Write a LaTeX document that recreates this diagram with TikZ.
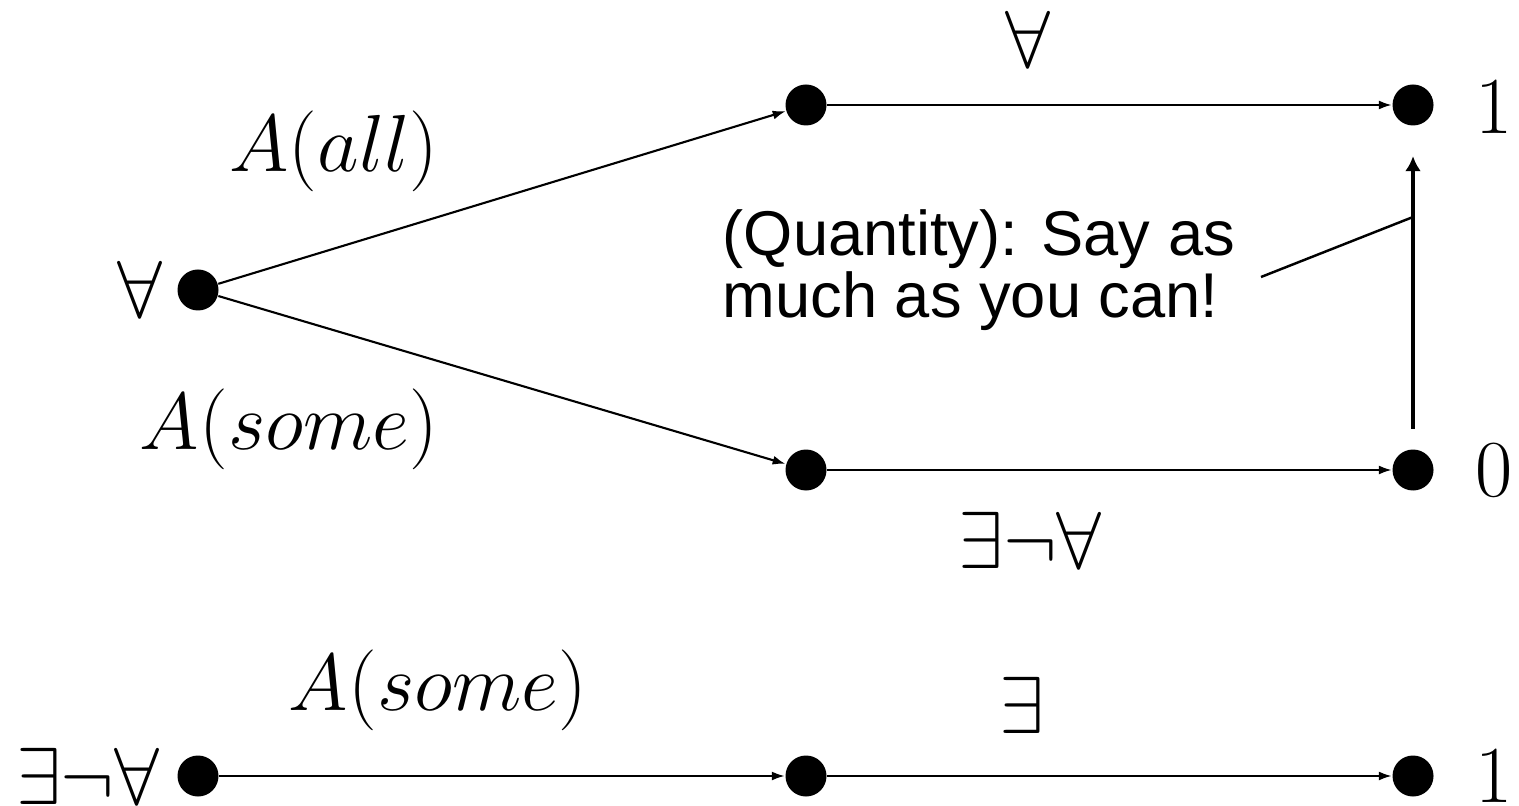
\documentclass[tikz,border=0pt]{standalone}
\usepackage{fontspec}
\newfontfamily\notefont{Liberation Sans}
\usetikzlibrary{arrows.meta}

\tikzset{
  dot/.style={circle,fill=black,inner sep=0pt,minimum size=0.41cm},
  lab/.style={inner sep=0pt,font=\fontsize{24.88}{28}\selectfont,scale=0.925,transform shape},
  move/.style={-{Latex[length=0.13cm,width=0.09cm]},line width=0.6pt},
}

\begin{document}
\begin{tikzpicture}
\useasboundingbox (0,0) rectangle (15.19,-8.06);

% upper tree
\node[dot] (root) at (1.98,-2.90) {};
\node[dot] (all) at (8.06,-1.05) {};
\node[dot] (some) at (8.06,-4.70) {};
\node[dot] (one) at (14.13,-1.05) {};
\node[dot] (zero) at (14.13,-4.70) {};

\draw[move] (root)--(all);
\draw[move] (root)--(some);
\draw[move] (all)--(one);
\draw[move] (some)--(zero);

\node[lab] (rootlab) at (1.40,-2.89) {$\forall$};
\node[lab] (alllab) at (3.34,-1.51) {$A(all)$};
\node[lab] (somelab) at (2.89,-4.29) {$A(some)$};
\node[lab] (toplab) at (10.28,-0.39) {$\forall$};
\node[lab] (botlab) at (10.30,-5.40) {$\exists\neg\forall$};
\node[lab] (onelab) at (14.94,-1.07) {$1$};
\node[lab] (zerolab) at (14.94,-4.70) {$0$};

% the maxim
\node[anchor=north west,inner sep=0pt,align=left,
  font=\notefont\fontsize{18}{17.5}\selectfont] (maxim) at (7.22,-2.09)
  {(Quantity): Say as\\much as you can!};

\coordinate (tail) at (12.61,-2.77);
\coordinate (hit) at (14.13,-2.17);
\draw[-{Latex[length=0.15cm,width=0.16cm]},line width=0.9pt,
  shorten <=0.20cm,shorten >=0.30cm] (zero)--(one);
\draw[line width=0.7pt] (tail)--(hit);

% lower row
\node[dot] (start) at (1.98,-7.76) {};
\node[dot] (mid) at (8.06,-7.76) {};
\node[dot] (end) at (14.13,-7.76) {};

\draw[move] (start)--(mid);
\draw[move] (mid)--(end);

\node[lab] (startlab) at (0.88,-7.76) {$\exists\neg\forall$};
\node[lab] (midlab) at (4.38,-6.90) {$A(some)$};
\node[lab] (existslab) at (10.22,-7.05) {$\exists$};
\node[lab] (endlab) at (14.94,-7.76) {$1$};
\end{tikzpicture}
\end{document}
